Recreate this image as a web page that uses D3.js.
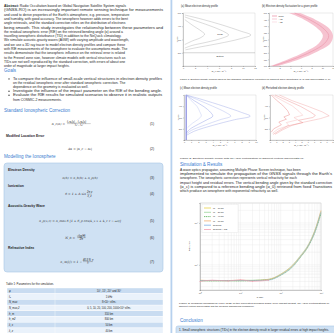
<!DOCTYPE html>
<html>
<head>
<meta charset="utf-8">
<script src="https://cdn.jsdelivr.net/npm/d3@7"></script>
<style>
  body { margin: 0; background: #fff; }
  svg { display: block; font-family: "Liberation Sans", "DejaVu Sans", sans-serif; }
  .body { font-size: 3.4px; fill: #262626; }
  .head { font-size: 4.6px; fill: #3b7dd0; }
  .bold { font-weight: bold; }
  .tick text { font-size: 2.1px; fill: #555; }
  .tick line { stroke: #666; stroke-width: 0.3; }
  .domain { stroke: #777; stroke-width: 0.35; }
</style>
</head>
<body>
<svg id="page" width="334" height="333"></svg>
<script>
// ---- text of the page ----
const abstractLines = [
  "Abstract: Radio Occultation based on Global Navigation Satellite System signals",
  "(GNSS-RO) is an increasingly important remote sensing technique for measurements",
  "and used to derive properties of the Earth's atmosphere, e.g. pressure, temperature",
  "and humidity, with good accuracy. The ionosphere however adds errors to the bent",
  "angle retrievals, and the standard correction relies on the distribution of electrons",
  "being smooth. This study investigates the relationship between these parameters and",
  "the residual ionospheric error (RIE) on the retrieved bending angle (α) around a",
  "travelling ionospheric disturbance (TID) in addition to the NeQuick climatology.",
  "We simulate acoustic-gravity waves (AGW) with varying amplitude and wavelength,",
  "and we use a 3D ray tracer to model electron density profiles and compare these",
  "with RIE measurements of the ionosphere to evaluate the assumptions made. The",
  "results demonstrate that the ionospheric influence on the retrieval error is related",
  "to the Fresnel zone size, however climate models with vertical structures such as",
  "TIDs are not well reproduced by the standard correction, with errors of about one",
  "order of magnitude at larger impact heights."
];
const goalLines = [
  "To compare the influence of small-scale vertical structures in electron density profiles",
  "on the residual ionospheric error after standard ionospheric correction. The",
  "dependence on the geometry is evaluated as well.",
  "Investigate the influence of the impact parameter on the RIE of the bending angle.",
  "Evaluate the RIE results for simulated scenarios to observe it in realistic outputs",
  "from COSMIC-2 measurements."
];
const goalBullets = [0, 3, 4];
const resultLines = [
  "A wave optics propagator, assuming Multiple Phase Screen technique, has been",
  "implemented to simulate the propagation of the GNSS signals through the Earth's",
  "ionosphere. The ionospheric correction represents vertical refractivity for each",
  "impact height and residual errors. The vertical bending angle given by the standard correction",
  "(α_c) is compared to a reference bending angle (α_0) retrieved from fixed Transitions",
  "which produce an ionosphere with exponential refractivity as well."
];
const captionOne = "Figure 1: Electron density profiles used for the standard ionospheric correction for different wave amplitudes (a, b) and wavelengths (c, d).";
const captionTwo = "Figure 2: Electron density profile with an AGW perturbation of different vertical wavelength λz.";
const captionThree = [
  "Figure 3: Residual ionospheric error (RIE) of the corrected bending angle over impact height, for AGW perturbations of",
  "different vertical wavelengths and the NeQuick background ionosphere."
];
const conclusionLine = "1. Small ionospheric structures (TIDs) in the electron density result in larger residual errors at high impact heights.";

// ---- table 1 ----
const tableParams = ["φ", "f₀", "N_max", "N_max,2", "h_m", "h_m2", "λ_x", "λ_z"];
const tableValues = ["10°, 15°, 20° and 30°", "1 kHz", "8×10¹¹ el/m³", "0, 5, 10, 20, 100, 200, 1000×10⁹ el/m³",
  "310 km", "800 km", "50 km", "40 km"];

// ---- figure 1 (a): mean profile contours [density 10^11 m^-3, altitude km] ----
const aOuter = [[0.3,485],[3,455],[6.5,410],[9.5,365],[11.3,334],[9.5,305],[6,270],[3,245],[0.4,222]];
const aMiddle = [[0.3,470],[2.5,435],[5,395],[7,355],[7.6,334],[6.5,310],[4,280],[1.5,255],[0.3,235]];
const aInner = [[0.3,450],[1.5,410],[3,365],[3.6,340],[3,315],[1.6,290],[0.3,262]];
const aTicksX = [0, 2, 4, 6, 8, 10, 12];
const aTicksY = [200, 300, 400, 500];

// ---- figure 1 (b): fluctuation band ----
const bMean = [[4.8,500],[7.6,450],[10,390],[11.2,330],[10.4,270],[8,210],[4.5,150],[0.8,100]];
const bLow = [[3.8,500],[6.6,450],[8.9,390],[10.1,330],[9.3,270],[6.9,210],[3.5,150],[0.2,100]];
const bHigh = [[5.9,500],[8.7,450],[11.1,390],[12,330],[11.5,270],[9.1,210],[5.6,150],[1.6,100]];
const bLegend = ["mean", "± 1σ", "± 2σ"];
const bTicksY = [100, 150, 200, 250, 300, 350, 400, 450, 500];

// ---- figure 2 (c) and (d) ----
const cBase = [[0.3,100],[0.3,500]];
const cLines = [
  [[0.3,500],[2.5,460],[5.5,400],[8,345],[9.2,312],[7,280],[4,230],[1.5,180],[0.3,140]],
  [[0.3,500],[2,455],[4,400],[5.8,345],[6.5,312],[5,280],[3,235],[1,185],[0.3,150]],
  [[0.3,500],[1.4,450],[2.8,395],[3.7,345],[4,312],[3.2,280],[2,240],[0.8,195],[0.3,160]],
  [[0.3,500],[1,450],[1.8,400],[2.2,350],[2.4,315],[2,285],[1.2,250],[0.5,210]]
];
const dLines = [
  [[1.5,500],[3.5,450],[6,400],[8.3,350],[9.4,315],[8,290],[5.5,260],[3.5,230],[2,190],[0.8,150]],
  [[0.8,500],[2.6,455],[4.8,400],[6.4,350],[7.2,318],[6.8,300],[4.5,275],[5.2,255],[2.8,225],[1.5,185],[0.5,150]],
  [[0.4,500],[1.8,455],[3.5,405],[4.6,355],[5.2,320],[3.8,300],[4.4,280],[2.6,255],[3,230],[1.2,195],[0.4,160]],
  [[0.2,500],[1,455],[2,410],[2.8,360],[3.1,325],[2.2,305],[2.6,285],[1.4,260],[1.8,235],[0.6,200],[0.2,170]]
];
const cdTicksX = [0,1,2,3,4,5,6,7,8,9,10];
const cdTicksY = [200, 300, 400];

// ---- figure 3: RIE vs impact height (log-log) ----
const impactHeight = [1, 2, 5, 10, 20, 50, 100, 200, 300, 500, 700, 1000];
const rieSeriesNames = ["λz = 10 km", "λz = 20 km", "λz = 40 km", "λz = 80 km", "NeQuick", "NeQuick + TID"];
const rie10 = [4.2, 4.2, 4.2, 4.2, 4.2, 4.4, 5.8, 9.5, 15, 30, 62, 175];
const rie20 = [4.1, 4.2, 4.1, 4.2, 4.3, 4.5, 6.0, 10, 16, 32, 66, 190];
const rie40 = [4.2, 4.1, 4.2, 4.1, 4.2, 4.4, 5.6, 9.0, 14.5, 29, 58, 165];
const rie80 = [4.3, 4.2, 4.2, 4.3, 4.2, 4.5, 5.9, 9.8, 15.5, 31, 64, 200];
const rieNeq = [4.2, 4.2, 4.2, 4.2, 4.2, 4.3, 5.7, 9.3, 15, 30, 60, 180];
const rieTid = [4.0, 4.3, 4.1, 4.4, 4.0, 4.3];
const rieColors = ["#e9d24a", "#9bd49b", "#4fb04f", "#f2b070", "#7fb0e6", "#f2a0b4"];

// ---------------------------------------------------------------------------
const svg = d3.select('#page');
svg.append('rect').attr('width', 334).attr('height', 333).attr('fill', '#fff');

function textLines(g, lines, x, y, w, lh, cls) {
  lines.forEach((s, i) => {
    const t = g.append('text').attr('class', cls || 'body').attr('x', x).attr('y', y + i * lh).text(s);
    if (t.node().getComputedTextLength() > 0.8 * w)
      t.attr('textLength', w).attr('lengthAdjust', 'spacingAndGlyphs');
  });
}
// equation: text s ending at xr (or centred at 80), with its number at the right
function eq(g, s, y, n, xr) {
  g.append('text').attr('class', 'body').attr('x', xr || 80).attr('y', y).attr('text-anchor', xr ? 'end' : 'middle')
    .style('font-family', '"DejaVu Serif", serif').style('font-style', 'italic').style('font-size', '3.1px').text(s);
  g.append('text').attr('class', 'body').attr('x', 152).attr('y', y).attr('text-anchor', 'middle').text(`(${n})`);
}
function frac(g, x, y, num, den) {
  g.append('text').attr('class', 'body').attr('x', x).attr('y', y - 1.6).attr('text-anchor', 'start')
    .style('font-size', '2.6px').style('font-style', 'italic').text(num);
  const w = num.length * 1.25;
  g.append('line').attr('x1', x).attr('x2', x + w)
    .attr('y1', y - 0.9).attr('y2', y - 0.9).attr('stroke', '#444').attr('stroke-width', 0.25);
  g.append('text').attr('class', 'body').attr('x', x + w / 2).attr('y', y + 1.9).attr('text-anchor', 'middle')
    .style('font-size', '2.6px').style('font-style', 'italic').text(den);
}

// ---------------- left column ----------------
const left = svg.append('g');
const abs = left.append('g');
textLines(abs, abstractLines, 4, 7, 159, 4.3);
abs.select('text').text(null).call(t => {
  t.append('tspan').attr('class', 'bold').text('Abstract:');
  t.append('tspan').text(abstractLines[0].replace('Abstract:', ''));
});

left.append('text').attr('class', 'head').attr('x', 4).attr('y', 72).text('Goals');
const goals = left.append('g');
textLines(goals, goalLines, 13, 80, 149, 4.1);
goalBullets.forEach(i => goals.append('circle').attr('cx', 9).attr('cy', 80 + i * 4.1 - 1.1).attr('r', 0.7).attr('fill', '#333'));

left.append('text').attr('class', 'head').attr('x', 4).attr('y', 112).text('Standard Ionospheric Correction');
eq(left, 'α_c(a) =', 124.5, 1, 65);
frac(left, 67, 124.5, 'f₁²α₁(a) − f₂²α₂(a)', 'f₁² − f₂²');
left.append('text').attr('class', 'body bold').attr('x', 6).attr('y', 137).text('Modified Location Error');
eq(left, 'Δα = |α_c − α₀|', 149.5, 2);

left.append('text').attr('class', 'head').attr('x', 4).attr('y', 158).text('Modelling the Ionosphere');
left.append('rect').attr('x', 4).attr('y', 163).attr('width', 159).attr('height', 109).attr('rx', 3)
  .attr('fill', '#cfe1f3').attr('stroke', '#a9c7e6').attr('stroke-width', 0.6);
const boxLabels = [['Electron Density', 171], ['Ionization', 186.5], ['Acoustic-Gravity Wave', 207], ['Refractive Index', 248.5]];
boxLabels.forEach(([s, y]) => left.append('text').attr('class', 'body bold').attr('x', 8).attr('y', y).text(s));
eq(left, 'n(h) = n_b(h) + n_p(h)', 179, 3);
eq(left, 'δ = 1 + A sin', 195, 4, 86);
frac(left, 87, 195, '2π z', 'λ_z');
eq(left, 'n_p(x,z) = n_max δ [1 + δ_p cos(k_x x + k_z z − ωt)]', 221.5, 5);
eq(left, 'N_b =', 238.5, 6, 75);
frac(left, 77, 238.5, '√(γg/H)', '2π');
eq(left, 'n_ref(f) = 1 −', 262.5, 7, 82);
frac(left, 83, 262.5, '40.3 N_e', 'f²');

left.append('text').attr('class', 'body').attr('x', 6).attr('y', 285).style('font-size', '2.8px')
  .text('Table 1: Parameters for the simulation.');
const rowY = d3.scaleBand().domain(d3.range(tableParams.length)).range([288, 288 + 5.7 * tableParams.length]);
const rows = left.selectAll('g.row').data(tableParams).join('g').attr('class', 'row')
  .attr('transform', (d, i) => `translate(0,${rowY(i)})`);
rows.append('rect').attr('x', 7).attr('width', 156).attr('height', rowY.bandwidth())
  .attr('fill', (d, i) => i % 2 ? '#eaf2fb' : '#c9dcf1').attr('stroke', '#fff').attr('stroke-width', 0.4);
rows.append('line').attr('x1', 55).attr('x2', 55).attr('y2', rowY.bandwidth()).attr('stroke', '#fff').attr('stroke-width', 0.4);
rows.append('text').attr('class', 'body').attr('x', 9).attr('y', 3.9).style('font-size', '2.6px').style('font-style', 'italic').text(d => d);
rows.append('text').attr('class', 'body').attr('x', 109).attr('y', 3.9).attr('text-anchor', 'middle').style('font-size', '2.6px')
  .text((d, i) => tableValues[i]);

// ---------------- right column ----------------
const right = svg.append('g');
right.append('rect').attr('x', 170.5).attr('y', 0).attr('width', 1.8).attr('height', 333).attr('fill', '#b7d1ee');

function title(s, x, y) {
  right.append('text').attr('class', 'body').attr('x', x).attr('y', y).style('font-size', '2.6px').text(s);
}
function profilePlot(o) {
  const x = d3.scaleLinear().domain(o.xd).range([o.x0, o.x1]);
  const y = d3.scaleLinear().domain([100, 500]).range([o.y1, o.y0]);
  const g = right.append('g');
  g.append('rect').attr('x', o.x0).attr('y', o.y0).attr('width', o.x1 - o.x0).attr('height', o.y1 - o.y0)
    .attr('fill', 'none').attr('stroke', '#bbb').attr('stroke-width', 0.3);
  g.append('g').attr('transform', `translate(0,${o.y1})`)
    .call(d3.axisBottom(x).tickValues(o.tx).tickSize(1).tickPadding(0.8));
  g.append('g').attr('transform', `translate(${o.x0},0)`)
    .call(d3.axisLeft(y).tickValues(o.ty).tickSize(1).tickPadding(0.8));
  g.selectAll('.domain').attr('stroke', '#999');
  g.append('text').attr('class', 'body').attr('x', (o.x0 + o.x1) / 2).attr('y', o.y1 + 6).attr('text-anchor', 'middle')
    .style('font-size', '2.2px').text('N_e (10¹¹ m⁻³)');
  g.append('text').attr('class', 'body').attr('transform', `translate(${o.x0 - 5},${(o.y0 + o.y1) / 2}) rotate(-90)`)
    .attr('text-anchor', 'middle').style('font-size', '2.2px').text('h (km)');
  return { g, x, y };
}

// (a)
title('(a) Mean electron density profile', 181, 6.5);
const pa = profilePlot({ x0: 183, x1: 255, y0: 13, y1: 66, xd: [0, 12], tx: aTicksX, ty: aTicksY });
const lineA = d3.line().x(d => pa.x(d[0])).y(d => pa.y(d[1])).curve(d3.curveCatmullRom);
[aOuter, aMiddle, aInner].forEach(d => pa.g.append('path').attr('d', lineA(d)).attr('fill', 'none')
  .attr('stroke', '#9a9a9a').attr('stroke-width', 0.35));
pa.g.append('line').attr('x1', pa.x(0)).attr('x2', pa.x(12)).attr('y1', pa.y(200)).attr('y2', pa.y(200))
  .attr('stroke', '#888').attr('stroke-width', 0.35);
pa.g.append('text').attr('class', 'body').attr('x', 220).attr('y', 35).attr('text-anchor', 'middle').style('font-size', '2.4px').text('Peak');
pa.g.append('text').attr('class', 'body').attr('x', 220).attr('y', 57).attr('text-anchor', 'middle').style('font-size', '2.2px').text('Bottom');

// (b)
title('(b) Electron density fluctuation for a given profile', 262, 6.5);
const pb = profilePlot({ x0: 269, x1: 333, y0: 13, y1: 66, xd: [0, 12], tx: aTicksX, ty: bTicksY });
const band = bLow.map((d, i) => [d[0], bHigh[i][0], d[1]]);
pb.g.append('path').attr('d', d3.area().y(d => pb.y(d[2])).x0(d => pb.x(d[0])).x1(d => pb.x(d[1])).curve(d3.curveCatmullRom)(band))
  .attr('fill', '#f5bccb').attr('opacity', 0.9);
pb.g.append('path').attr('d', d3.line().x(d => pb.x(d[0])).y(d => pb.y(d[1])).curve(d3.curveCatmullRom)(bMean))
  .attr('fill', 'none').attr('stroke', '#e98aa0').attr('stroke-width', 0.5);
bLegend.forEach((s, i) => {
  pb.g.append('line').attr('x1', 272).attr('x2', 277).attr('y1', 16 + i * 3).attr('y2', 16 + i * 3)
    .attr('stroke', ['#e98aa0', '#f4b6c4', '#f9d6de'][i]).attr('stroke-width', 0.7);
  pb.g.append('text').attr('class', 'body').attr('x', 278.5).attr('y', 16.8 + i * 3).style('font-size', '2px').text(s);
});

right.append('text').attr('class', 'body').attr('x', 180).attr('y', 79.5).style('font-size', '2.5px')
  .attr('textLength', 151).attr('lengthAdjust', 'spacingAndGlyphs').text(captionOne);

// (c)
title('(c) Mean electron density profile', 180, 89);
const pc = profilePlot({ x0: 184, x1: 256, y0: 95, y1: 140, xd: [0, 10], tx: cdTicksX, ty: cdTicksY });
const lineC = d3.line().x(d => pc.x(d[0])).y(d => pc.y(d[1])).curve(d3.curveCatmullRom);
pc.g.append('path').attr('d', lineC(cBase)).attr('stroke', '#5d63d6').attr('stroke-width', 0.9);
cLines.forEach((d, i) => pc.g.append('path').attr('d', lineC(d)).attr('fill', 'none')
  .attr('stroke', ['#8f9de3', '#a2aeea', '#7d8de0', '#b4bdf0'][i]).attr('stroke-width', 0.4));

// (d)
title('(d) Perturbed electron density profile', 262, 89);
const pd = profilePlot({ x0: 270, x1: 333, y0: 95, y1: 140, xd: [0, 10], tx: cdTicksX, ty: cdTicksY });
const lineD = d3.line().x(d => pd.x(d[0])).y(d => pd.y(d[1])).curve(d3.curveLinear);
dLines.forEach((d, i) => pd.g.append('path').attr('d', lineD(d)).attr('fill', 'none')
  .attr('stroke', ['#f09a9a', '#ec8585', '#f4b1b1', '#e77272'][i]).attr('stroke-width', 0.4));

right.append('text').attr('class', 'body').attr('x', 180).attr('y', 158.5).style('font-size', '2.5px')
  .attr('textLength', 124).attr('lengthAdjust', 'spacingAndGlyphs').text(captionTwo);

right.append('text').attr('class', 'head').attr('x', 180).attr('y', 165.5).text('Simulation & Results');
textLines(right.append('g'), resultLines, 180, 171, 152, 4.2);

// figure 3
const fx = d3.scaleLog().domain([1, 1000]).range([200, 321]);
const fy = d3.scaleLog().domain([2.5, 300]).range([290, 203]);
const f3 = right.append('g');
f3.append('rect').attr('x', 200).attr('y', 203).attr('width', 121).attr('height', 87).attr('fill', '#fff')
  .attr('stroke', '#bbb').attr('stroke-width', 0.4);
f3.append('g').selectAll('line').data(fx.ticks()).join('line')
  .attr('x1', d => fx(d)).attr('x2', d => fx(d)).attr('y1', 203).attr('y2', 290)
  .attr('stroke', '#e4e4e4').attr('stroke-width', 0.35);
f3.append('g').selectAll('line').data(fy.ticks()).join('line')
  .attr('y1', d => fy(d)).attr('y2', d => fy(d)).attr('x1', 200).attr('x2', 321)
  .attr('stroke', '#e4e4e4').attr('stroke-width', 0.35);
f3.append('g').attr('transform', 'translate(0,290)')
  .call(d3.axisBottom(fx).tickValues([1, 10, 100, 1000]).tickFormat(d => '10' + '⁰¹²³'[Math.log10(d)]).tickSize(1).tickPadding(1));
f3.append('g').attr('transform', 'translate(200,0)')
  .call(d3.axisLeft(fy).tickValues([10, 100]).tickFormat(d => '10' + '⁰¹²³'[Math.log10(d)]).tickSize(1).tickPadding(1));
f3.selectAll('.tick text').style('font-size', '2.4px');
f3.append('text').attr('class', 'body').attr('x', 260).attr('y', 298).attr('text-anchor', 'middle').style('font-size', '2.3px').text('h (km)');
f3.append('text').attr('class', 'body').attr('transform', 'translate(190,246) rotate(-90)').attr('text-anchor', 'middle')
  .style('font-size', '2.3px').text('RIE (µrad)');
const rieLine = d3.line().x((d, i) => fx(impactHeight[i])).y(d => fy(d)).curve(d3.curveMonotoneX);
[rie10, rie20, rie40, rie80, rieNeq].forEach((s, i) => f3.append('path').attr('d', rieLine(s)).attr('fill', 'none')
  .attr('stroke', rieColors[i]).attr('stroke-width', 0.55).attr('stroke-dasharray', i === 2 ? '1.2,0.6' : null));
f3.append('path').attr('d', rieLine(rieTid)).attr('fill', 'none').attr('stroke', rieColors[5]).attr('stroke-width', 0.6);
f3.selectAll('circle.tid').data(rieTid).join('circle').attr('class', 'tid')
  .attr('cx', (d, i) => fx(impactHeight[i])).attr('cy', d => fy(d)).attr('r', 0.5).attr('fill', rieColors[5]);
const lg = f3.append('g');
lg.append('rect').attr('x', 202).attr('y', 204.5).attr('width', 36).attr('height', 28).attr('fill', '#fff')
  .attr('stroke', '#ddd').attr('stroke-width', 0.3);
rieSeriesNames.forEach((s, i) => {
  lg.append('line').attr('x1', 204).attr('x2', 211).attr('y1', 208 + i * 4.3).attr('y2', 208 + i * 4.3)
    .attr('stroke', rieColors[i]).attr('stroke-width', 0.8).attr('stroke-dasharray', i === 2 ? '1.2,0.6' : null);
  lg.append('text').attr('class', 'body').attr('x', 213).attr('y', 208.8 + i * 4.3).style('font-size', '2.2px').text(s);
});

captionThree.forEach((s, i) => {
  const t = right.append('text').attr('class', 'body').attr('x', 179).attr('y', 304 + i * 3.2).style('font-size', '2.4px').text(s);
  if (i === 0) t.attr('textLength', 150).attr('lengthAdjust', 'spacingAndGlyphs');
});

right.append('text').attr('class', 'head').attr('x', 180).attr('y', 322).text('Conclusion');
right.append('rect').attr('x', 176).attr('y', 326).attr('width', 160).attr('height', 12).attr('rx', 2)
  .attr('fill', '#cfe1f3').attr('stroke', '#a9c7e6').attr('stroke-width', 0.6);
right.append('text').attr('class', 'body').attr('x', 179).attr('y', 330.8).style('font-size', '3px').attr('textLength', 150)
  .attr('lengthAdjust', 'spacingAndGlyphs').text(conclusionLine);
</script>
</body>
</html>
